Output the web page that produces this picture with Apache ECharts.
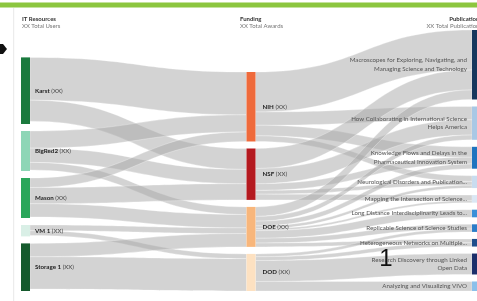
<!DOCTYPE html>
<html><head><meta charset="utf-8">
<script src="https://cdn.jsdelivr.net/npm/echarts@6/dist/echarts.min.js"></script>
<style>html,body{margin:0;padding:0;background:#fff}#c{width:477px;height:301px}</style>
</head><body><div id="c"></div>
<script>
// ---- data ----
const resources = ['Karst', 'BigRed2', 'Mason', 'VM 1', 'Storage 1'];
const resourceUsers = [70, 42, 42, 12, 50];
const funders = ['NIH', 'NSF', 'DOE', 'DOD'];
const publications = [
  'Macroscopes for Exploring, Navigating, and\nManaging Science and Technology',
  'How Collaborating in International Science\nHelps America',
  'Knowledge Flows and Delays in the\nPharmaceutical Innovation System',
  'Neurological Disorders and Publication...',
  'Mapping the Intersection of Science...',
  'Long Distance Interdisciplinarity Leads to...',
  'Replicable Science of Science Studies',
  'Heterogeneous Networks on Multiple...',
  'Research Discovery through Linked\nOpen Data',
  'Analyzing and Visualizing VIVO'
];
// [resource index, funder index, value]
const resourceFunding = [
  [0, 0, 45], [0, 1, 22],
  [1, 0, 18], [1, 1, 15], [1, 2, 8],
  [2, 0, 10], [2, 1, 17], [2, 2, 14],
  [3, 2, 6], [3, 3, 5],
  [4, 2, 14], [4, 3, 34]
];
// [funder index, publication index, value]
const fundingPublications = [
  [0, 0, 42], [0, 1, 14], [0, 2, 11], [0, 3, 6],
  [1, 0, 21], [1, 1, 16], [1, 2, 7], [1, 3, 4], [1, 4, 6],
  [2, 0, 10], [2, 1, 5], [2, 2, 5], [2, 3, 3], [2, 4, 2], [2, 5, 8], [2, 6, 5], [2, 7, 4],
  [3, 6, 3], [3, 7, 4], [3, 8, 22], [3, 9, 10]
];
const countLabel = '(XX)';
const columnTitles = ['IT Resources', 'Funding', 'Publications'];
const columnSubtitles = ['XX Total Users', 'XX Total Awards', 'XX Total Publications'];

// ---- styles ----
const resourceColors = ['#1b7a3e', '#8ed6b6', '#2aa65a', '#d9efe6', '#155a2d'];
const funderColors = ['#ef6a3b', '#b4191f', '#f8b67b', '#fde1c1'];
const pubColors = ['#16375d', '#a9c8e5', '#1f74bf', '#c9dcef', '#dbe7f4', '#3a90d8', '#2b7dc8', '#1f4e8c', '#1c2f6b', '#8bc0ea'];
const FONT = 'Lato';

const nodes = [];
resources.forEach((n, i) => nodes.push({
  name: n, value: resourceUsers[i], depth: 0, itemStyle: { color: resourceColors[i] },
  label: { position: 'right', distance: 5, formatter: '{b|' + n + '} ' + countLabel }
}));
funders.forEach((n, i) => nodes.push({
  name: n, depth: 1, itemStyle: { color: funderColors[i] },
  label: { position: 'right', distance: 7, formatter: '{b|' + n + '} ' + countLabel }
}));
publications.forEach((n, i) => nodes.push({
  name: n, depth: 2, itemStyle: { color: pubColors[i] },
  label: { position: 'left', distance: 5, formatter: n, color: '#555', lineHeight: 8.5 }
}));
const links = [];
resourceFunding.forEach(([s, t, v]) => links.push({ source: resources[s], target: funders[t], value: v }));
fundingPublications.forEach(([s, t, v]) => links.push({ source: funders[s], target: publications[t], value: v }));

const chart = echarts.init(document.getElementById('c'), null, { renderer: 'canvas' });

function titleText(x, y, txt, bold, align) {
  return { type: 'text', x: x, y: y, silent: true,
    style: { text: txt, fontFamily: FONT, fontSize: 6, fontWeight: bold ? 'bold' : 'normal',
      fill: bold ? '#333' : '#777', textAlign: align || 'left', textVerticalAlign: 'middle' } };
}

chart.setOption({
  animation: false,
  backgroundColor: '#fff',
  graphic: [
    { type: 'rect', shape: { x: 0, y: 2.5, width: 477, height: 5 }, style: { fill: '#8cc63f' }, silent: true },
    { type: 'rect', shape: { x: 13, y: 8, width: 1.2, height: 293 }, style: { fill: '#ececec' }, silent: true },
    { type: 'polygon', shape: { points: [[0, 44], [3, 44], [7, 49], [3, 54], [0, 54]] }, style: { fill: '#111' }, silent: true },
    titleText(22, 19, columnTitles[0], true),
    titleText(22, 26, columnSubtitles[0], false),
    titleText(240, 19, columnTitles[1], true),
    titleText(240, 26, columnSubtitles[1], false),
    titleText(482, 19, columnTitles[2], true, 'right'),
    titleText(482, 26, columnSubtitles[2], false, 'right'),
    { type: 'text', x: 386, y: 259, silent: true, z: 100,
      style: { text: '1', fontFamily: 'Liberation Sans', fontSize: 24, fill: '#111', textAlign: 'center', textVerticalAlign: 'middle' } }
  ],
  series: [{
    type: 'sankey',
    left: 21, right: -4, top: 30, bottom: 10,
    nodeWidth: 9,
    nodeGap: 7,
    nodeAlign: 'justify',
    draggable: false,
    emphasis: { disabled: true },
    data: nodes,
    links: links,
    lineStyle: { color: '#a8a8a8', opacity: 0.5, curveness: 0.5, borderColor: '#ffffff', borderWidth: 0.6 },
    itemStyle: { borderWidth: 0 },
    label: {
      fontFamily: FONT, fontSize: 6.2, color: '#444',
      rich: { b: { fontFamily: FONT, fontSize: 6.2, color: '#222', fontWeight: 'bold' } }
    }
  }]
});
</script></body></html>
